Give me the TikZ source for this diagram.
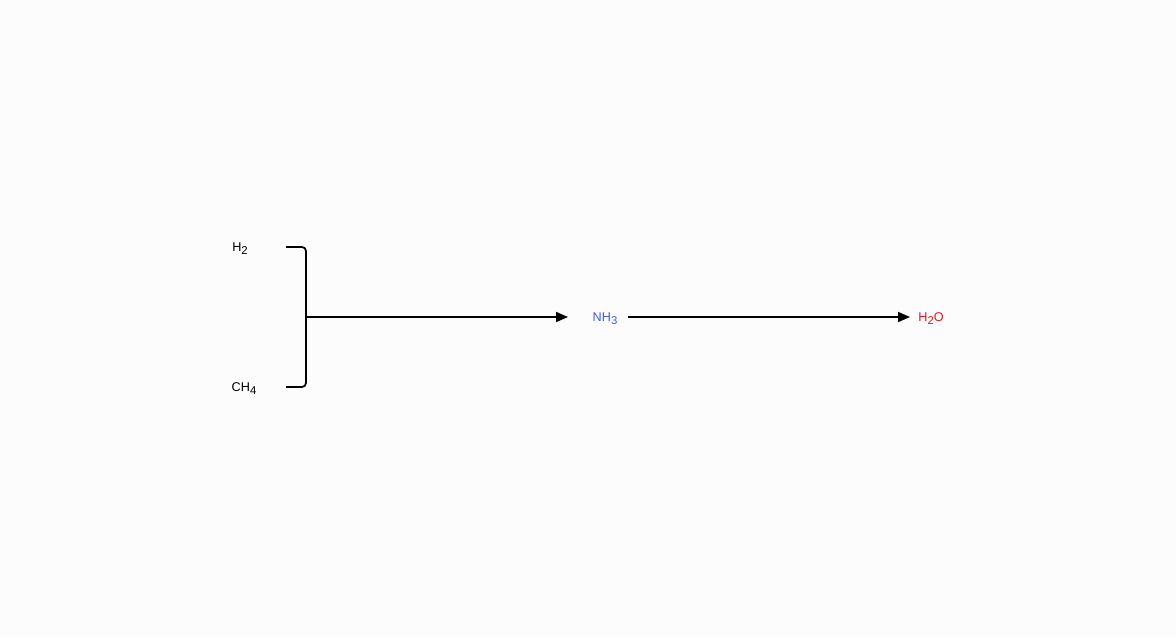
\documentclass[tikz,border=0pt]{standalone}
\usepackage{fontspec}
\setmainfont{Liberation Sans}
\usetikzlibrary{arrows.meta,positioning}
\definecolor{nhblue}{RGB}{64,96,230}
\definecolor{hored}{RGB}{235,20,30}
\definecolor{bgpaper}{RGB}{252,252,252}
\newcommand{\chsub}[1]{\raisebox{-0.45ex}{\fontsize{8.5}{9}\selectfont #1}}
\tikzset{
  chem/.style = {inner sep = 1pt, font = \fontsize{9.5}{10}\selectfont},
  link/.style = {line width = 1.3pt, -{Triangle[length = 9pt, width = 7.5pt]}}
}
\begin{document}
\begin{tikzpicture}[x = 0.75pt, y = -0.75pt]
      \fill [bgpaper] (0, 0) rectangle (1176, 638);
      \useasboundingbox (0, 0) rectangle (1176, 638);
      \node [chem] (h2) at (240, 249) {H\chsub{2}};
      \node [chem] (ch4) at (244, 389) {CH\chsub{4}};
      \node [chem, text = nhblue] (nh3) at (605, 319) {NH\chsub{3}};
      \node [chem, text = hored] (h2o) at (931, 319) {H\chsub{2}O};
      % bracket joining the two inputs
      \coordinate (top) at (286, 247);
      \coordinate (bot) at (286, 387);
      \coordinate (mid) at (306, 317);
      \coordinate (nh3in) at (568, 317);
      \coordinate (nh3out) at (628, 317);
      \coordinate (h2oin) at (910, 317);
      \draw [line width = 1.3pt, rounded corners = 3pt] (top) -- (306, 247) -- (306, 387) -- (bot);
      \draw [link] (mid) -- (nh3in);
      \draw [link] (nh3out) -- (h2oin);
    \end{tikzpicture}
\end{document}
